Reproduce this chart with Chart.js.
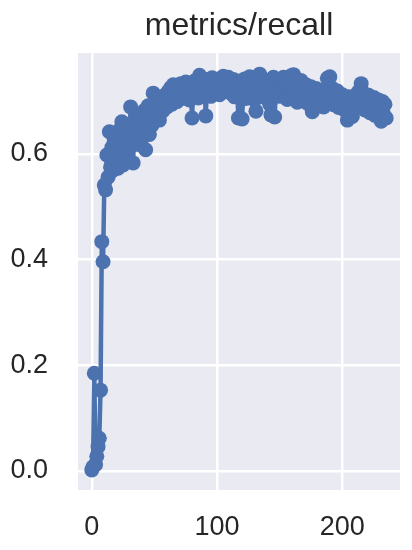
<!DOCTYPE html>
<html>
<head>
<meta charset="utf-8">
<script src="https://cdn.jsdelivr.net/npm/chart.js@4"></script>
<style>
  html, body { margin: 0; padding: 0; background: #fff; }
  #wrap { width: 412px; height: 550px; }
</style>
</head>
<body>
<div id="wrap"><canvas id="recall-chart" width="412" height="550"></canvas></div>
<script>
const chartTitle = 'metrics/recall';
const xTicks = [0, 100, 200];
const yTicks = [0, 0.2, 0.4, 0.6];

// recall per epoch
const recall = [
    0.002, 0.008, 0.185, 0.012, 0.028, 0.046, 0.062, 0.153, 0.434, 0.396,
    0.541, 0.532, 0.598, 0.556, 0.642, 0.575, 0.612, 0.569, 0.631, 0.588,
    0.604, 0.573, 0.645, 0.598, 0.661, 0.579, 0.622, 0.638, 0.601, 0.652,
    0.612, 0.689, 0.628, 0.583, 0.664, 0.641, 0.675, 0.618, 0.659, 0.633,
    0.671, 0.646, 0.682, 0.608, 0.665, 0.691, 0.637, 0.678, 0.654, 0.715,
    0.668, 0.692, 0.676, 0.701, 0.664, 0.686, 0.708, 0.682, 0.697, 0.712,
    0.689, 0.718, 0.702, 0.725, 0.694, 0.731, 0.708, 0.721, 0.699, 0.726,
    0.714, 0.733, 0.705, 0.728, 0.717, 0.736, 0.711, 0.729, 0.702, 0.724,
    0.668, 0.719, 0.738, 0.712, 0.731, 0.706, 0.749, 0.722, 0.735, 0.714,
    0.728, 0.672, 0.741, 0.718, 0.733, 0.709, 0.744, 0.726, 0.738, 0.715,
    0.731, 0.742, 0.712, 0.736, 0.725, 0.747, 0.718, 0.739, 0.729, 0.745,
    0.721, 0.737, 0.713, 0.741, 0.708, 0.732, 0.724, 0.668, 0.715, 0.738,
    0.666, 0.721, 0.742, 0.705, 0.733, 0.718, 0.746, 0.711, 0.729, 0.736,
    0.702, 0.681, 0.739, 0.724, 0.751, 0.716, 0.743, 0.708, 0.735, 0.722,
    0.711, 0.738, 0.694, 0.674, 0.726, 0.745, 0.670, 0.733, 0.718, 0.741,
    0.709, 0.736, 0.722, 0.745, 0.714, 0.731, 0.703, 0.742, 0.727, 0.748,
    0.718, 0.750, 0.712, 0.735, 0.698, 0.728, 0.715, 0.739, 0.704, 0.726,
    0.712, 0.731, 0.696, 0.722, 0.708, 0.727, 0.680, 0.718, 0.702, 0.724,
    0.697, 0.715, 0.691, 0.720, 0.705, 0.689, 0.717, 0.701, 0.743, 0.712,
    0.746, 0.706, 0.724, 0.693, 0.714, 0.701, 0.719, 0.688, 0.709, 0.697,
    0.712, 0.684, 0.703, 0.691, 0.664, 0.708, 0.682, 0.699, 0.671, 0.705,
    0.689, 0.712, 0.694, 0.718, 0.702, 0.733, 0.696, 0.715, 0.683, 0.708,
    0.691, 0.711, 0.678, 0.703, 0.686, 0.707, 0.673, 0.698, 0.684, 0.702,
    0.690, 0.662, 0.699, 0.675, 0.694, 0.668
];
const epochs = recall.map((_, i) => i);

const blue = '#4C72B0';
const textColor = '#262626';
const fontFamily = '"Liberation Sans", Arial, sans-serif';

// seaborn darkgrid background behind the plot
const plotBackground = {
    id: 'plotBackground',
    beforeDraw(chart) {
        const { ctx, chartArea } = chart;
        ctx.save();
        ctx.fillStyle = '#EAEAF2';
        ctx.fillRect(chartArea.left, chartArea.top, chartArea.right - chartArea.left, chartArea.bottom - chartArea.top);
        ctx.restore();
    }
};

// matplotlib centres the title over the axes, not over the whole canvas
const axesTitle = {
    id: 'axesTitle',
    afterDraw(chart) {
        const { ctx, chartArea } = chart;
        ctx.save();
        ctx.fillStyle = textColor;
        ctx.font = '32px ' + fontFamily;
        ctx.textAlign = 'center';
        ctx.textBaseline = 'alphabetic';
        ctx.fillText(chartTitle, (chartArea.left + chartArea.right) / 2, 35);
        ctx.restore();
    }
};

const ctx = document.getElementById('recall-chart');
new Chart(ctx, {
    type: 'line',
    data: {
        datasets: [{
            label: chartTitle,
            data: epochs.map((e, i) => ({ x: e, y: recall[i] })),
            borderColor: blue,
            backgroundColor: blue,
            borderWidth: 4.5,
            borderJoinStyle: 'round',
            borderCapStyle: 'round',
            pointRadius: 7.5,
            pointBorderWidth: 0,
            pointBackgroundColor: blue,
            tension: 0
        }]
    },
    options: {
        responsive: false,
        animation: false,
        layout: { padding: { left: 0, right: 12, top: 53, bottom: 0 } },
        plugins: {
            legend: { display: false },
            tooltip: { enabled: false },
            title: { display: false }
        },
        scales: {
            x: {
                type: 'linear',
                min: -11,
                max: 246,
                afterBuildTicks: scale => { scale.ticks = xTicks.map(v => ({ value: v })); },
                afterFit: scale => { scale.height = 60; },
                grid: { color: '#ffffff', lineWidth: 2.5, drawTicks: false },
                border: { display: false },
                ticks: {
                    color: textColor,
                    padding: 21,
                    maxRotation: 0,
                    font: { family: fontFamily, size: 27 },
                    callback: v => String(v)
                }
            },
            y: {
                min: -0.036,
                max: 0.791,
                afterBuildTicks: scale => { scale.ticks = yTicks.map(v => ({ value: v })); },
                afterFit: scale => { scale.width = 78; },
                grid: { color: '#ffffff', lineWidth: 2.5, drawTicks: false },
                border: { display: false },
                ticks: {
                    color: textColor,
                    padding: 30,
                    font: { family: fontFamily, size: 27 },
                    callback: v => v.toFixed(1)
                }
            }
        }
    },
    plugins: [plotBackground, axesTitle]
});
</script>
</body>
</html>
